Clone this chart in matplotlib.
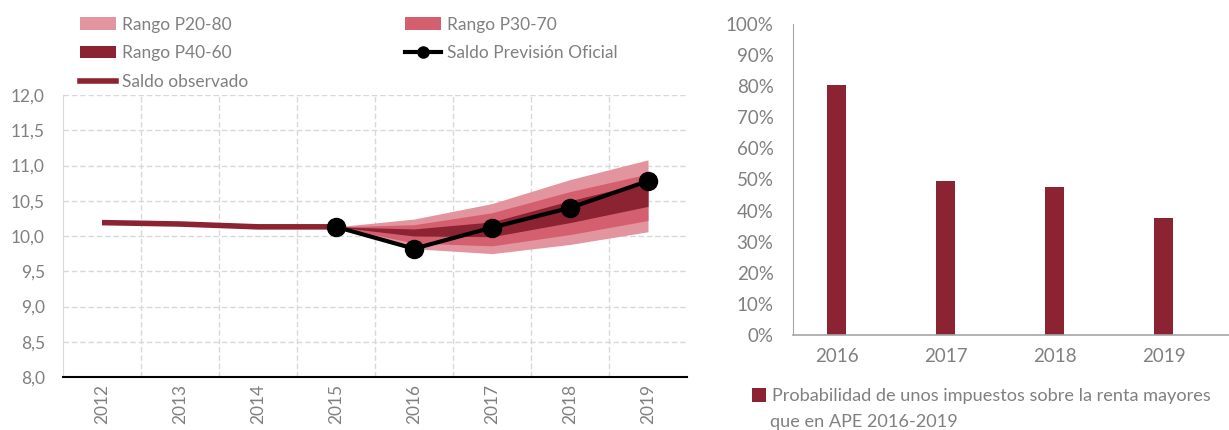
import matplotlib
matplotlib.use("Agg")
import matplotlib.pyplot as plt
from matplotlib.patches import Patch
from matplotlib.lines import Line2D

plt.rcParams['font.family'] = ['Lato', 'DejaVu Sans']

# ---- data: left chart ----
years = ['2012', '2013', '2014', '2015', '2016', '2017', '2018', '2019']
obs_years = ['2012', '2013', '2014', '2015']
observed = [10.19, 10.17, 10.13, 10.13]
fc_years = ['2015', '2016', '2017', '2018', '2019']
official = [10.13, 9.82, 10.12, 10.40, 10.78]
p20 = [10.13, 9.82, 9.75, 9.88, 10.06]
p30 = [10.13, 9.90, 9.86, 10.02, 10.22]
p40 = [10.13, 10.00, 9.99, 10.19, 10.42]
p60 = [10.13, 10.10, 10.20, 10.50, 10.77]
p70 = [10.13, 10.16, 10.33, 10.63, 10.88]
p80 = [10.13, 10.24, 10.46, 10.80, 11.08]
y_ticks = [8.0, 8.5, 9.0, 9.5, 10.0, 10.5, 11.0, 11.5, 12.0]

# ---- data: right chart ----
bar_years = ['2016', '2017', '2018', '2019']
prob = [0.805, 0.495, 0.475, 0.375]
pct_ticks = [i / 10 for i in range(11)]
bar_label_1 = 'Probabilidad de unos impuestos sobre la renta mayores'
bar_label_2 = 'que en APE 2016-2019'

c_light = '#E3959F'
c_mid = '#D4606F'
c_dark = '#8B2332'
c_txt = '#808080'
fs = 12.5
fs2 = 13.5

W, H = 1229, 430
fig = plt.figure(figsize=(W / 100, H / 100), dpi=100)

# ---------------- left chart ----------------
ax = fig.add_axes([63 / W, (H - 377) / H, 624 / W, 282 / H])
xi = {y: i for i, y in enumerate(years)}
xf = [xi[y] for y in fc_years]
xo = [xi[y] for y in obs_years]

ax.fill_between(xf, p20, p80, color=c_light, lw=0, zorder=2)
ax.fill_between(xf, p30, p70, color=c_mid, lw=0, zorder=3)
ax.fill_between(xf, p40, p60, color=c_dark, lw=0, zorder=4)
ax.plot(xo, observed, color=c_dark, lw=4, zorder=5, solid_capstyle='butt')
ax.plot(xf, official, color='black', lw=3, marker='o', ms=13, zorder=6)

ax.set_xlim(-0.5, len(years) - 0.5)
ax.set_ylim(8.0, 12.0)
ax.set_yticks(y_ticks)
ax.set_yticklabels([f"{v:.1f}".replace('.', ',') for v in y_ticks])
ax.set_xticks(range(len(years)))
ax.set_xticklabels(years, rotation=90)
ax.set_xticks([i + 0.5 for i in range(len(years) - 1)], minor=True)
ax.tick_params(axis='both', which='both', length=0, labelsize=fs, colors=c_txt)
ax.tick_params(axis='x', pad=5)
ax.tick_params(axis='y', pad=13)
ax.grid(axis='y', which='major', color='#D9D9D9', ls=(0, (4, 2)), lw=1, zorder=0)
ax.grid(axis='x', which='minor', color='#D9D9D9', ls=(0, (4, 2)), lw=1, zorder=0)
ax.grid(axis='x', which='major', visible=False)
for s in ['top', 'right']:
    ax.spines[s].set_visible(False)
ax.spines['left'].set_color('#D9D9D9')
ax.spines['bottom'].set_color('black')
ax.spines['bottom'].set_linewidth(1.5)
ax.set_axisbelow(True)

h_p20 = Patch(facecolor=c_light, edgecolor='none', label='Rango P20-80')
h_p30 = Patch(facecolor=c_mid, edgecolor='none', label='Rango P30-70')
h_p40 = Patch(facecolor=c_dark, edgecolor='none', label='Rango P40-60')
h_off = Line2D([], [], color='black', lw=3, marker='o', ms=8, label='Saldo Previsión Oficial')
h_obs = Line2D([], [], color=c_dark, lw=4, label='Saldo observado')
# column-wise fill -> gives row order P20, P30 / P40, Oficial / Observado
handles = [h_p20, h_p40, h_obs, h_p30, h_off]
leg = fig.legend(handles=handles, ncol=2, loc='upper left',
                 bbox_to_anchor=(64 / W, 1 - 1 / H), frameon=False,
                 fontsize=fs, handlelength=2.1, handleheight=0.7,
                 handletextpad=0.35, labelspacing=0.72, columnspacing=9.0,
                 labelcolor=c_txt)

# ---------------- right chart ----------------
ax2 = fig.add_axes([793 / W, (H - 335) / H, 436 / W, 311 / H])
bx = list(range(len(bar_years)))
ax2.bar(bx, prob, width=0.18, color=c_dark, zorder=2)
ax2.set_xlim(-0.40, 3.6)
ax2.set_ylim(0, 1.0)
ax2.set_yticks(pct_ticks)
ax2.set_yticklabels([f"{int(round(v * 100))}%" for v in pct_ticks])
ax2.set_xticks(bx)
ax2.set_xticklabels(bar_years)
ax2.tick_params(axis='both', length=0, labelsize=fs2, colors=c_txt)
ax2.tick_params(axis='y', pad=14)
ax2.tick_params(axis='x', pad=9)
for s in ['top', 'right']:
    ax2.spines[s].set_visible(False)
ax2.spines['left'].set_color('#A6A6A6')
ax2.spines['bottom'].set_color('#A6A6A6')
ax2.spines['bottom'].set_linewidth(1.2)
leg2 = fig.legend(handles=[Patch(facecolor=c_dark, edgecolor='none', label=bar_label_1)],
                  loc='upper left', bbox_to_anchor=(736 / W, 1 - 372 / H), frameon=False,
                  fontsize=13.1, handlelength=0.75, handleheight=0.75, handletextpad=0.35,
                  labelcolor=c_txt)
fig.text(770 / W, 1 - 422 / H, bar_label_2, fontsize=13.1, color=c_txt,
         ha='left', va='center')

fig.savefig('out.png', dpi=100)
